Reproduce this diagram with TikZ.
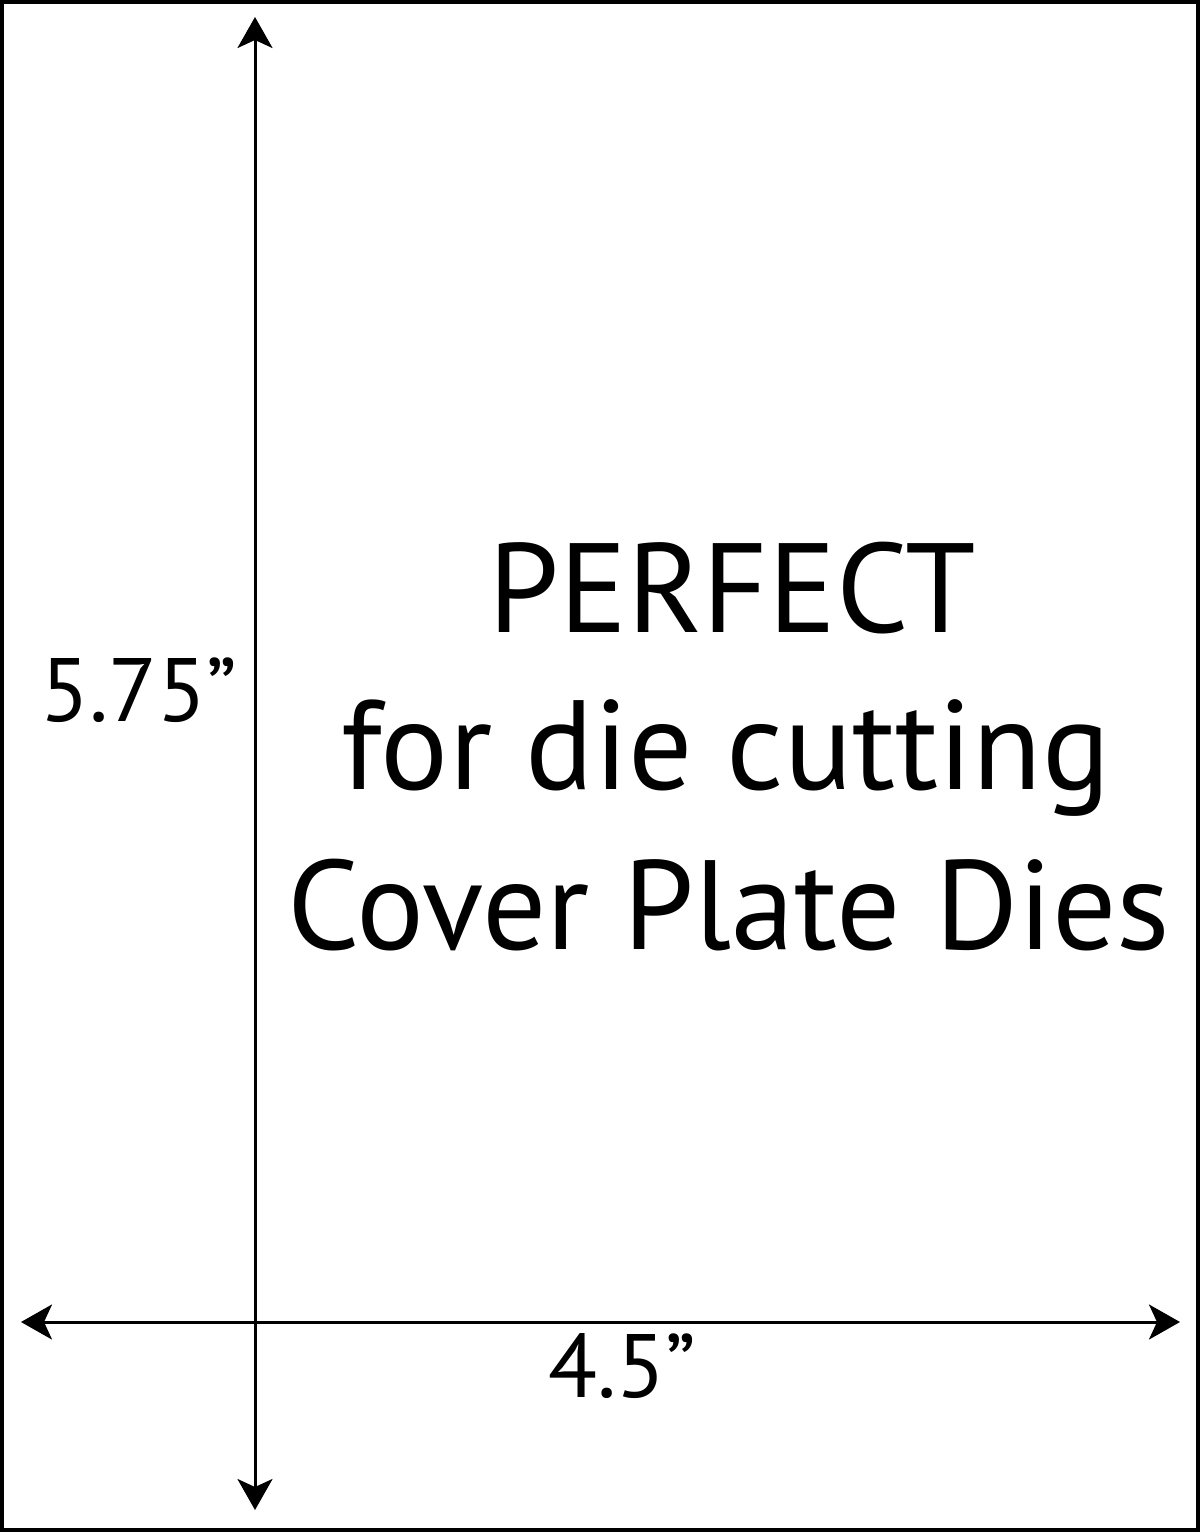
\documentclass[tikz,border=0pt]{standalone}
\usepackage{fontspec}
\setmainfont{PT Sans}
\usetikzlibrary{arrows.meta}
\begin{document}
\begin{tikzpicture}[x=1pt,y=-1pt,
  dim/.style={line width=3pt,{Stealth[length=31pt,width=35pt,inset=8pt]}-{Stealth[length=31pt,width=35pt,inset=8pt]}},
  bigtxt/.style={inner sep=0pt,anchor=base,font=\fontsize{127}{127}\selectfont},
  dimtxt/.style={inner sep=0pt,anchor=base west,font=\fontsize{90}{90}\selectfont}]
\useasboundingbox (0,0) rectangle (1200,1532);
\draw[line width=4pt] (2,2) rectangle (1198,1530);
\coordinate (vtop) at (255,17);
\coordinate (vbot) at (255,1510);
\coordinate (hl) at (21,1322);
\coordinate (hr) at (1180,1322);
\draw[dim] (vtop) -- (vbot);
\draw[dim] (hl) -- (hr);
\node[bigtxt] (l1) at (732,632) {PERFECT};
\node[bigtxt] (l2) at (726,789) {for die cutting};
\node[bigtxt] (l3) at (729,949) {Cover Plate Dies};
\node[dimtxt] (h) at (40,721) {5.75”};
\node[dimtxt] (w) at (548,1397) {4.5”};
\end{tikzpicture}
\end{document}
